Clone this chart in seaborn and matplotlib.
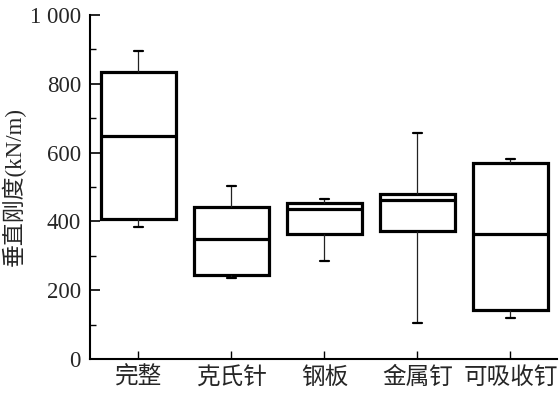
import numpy as np
import pandas as pd
import matplotlib
matplotlib.use("Agg")
import matplotlib.pyplot as plt
import seaborn as sns
from matplotlib.ticker import MultipleLocator, FuncFormatter

categories = ["完整", "克氏针", "钢板", "金属钉", "可吸收钉"]
# five-number summaries: min, Q1, median, Q3, max
mins    = [385, 235, 286, 104, 120]
q1s     = [408, 244, 362, 372, 141]
medians = [648, 348, 436, 462, 362]
q3s     = [833, 441, 454, 481, 571]
maxs    = [895, 503, 465, 658, 581]

rows = []
for c, a, b, m, d, e in zip(categories, mins, q1s, medians, q3s, maxs):
    for v in (a, b, m, d, e):
        rows.append({"组": c, "刚度": v})
df = pd.DataFrame(rows)

sns.set_theme(style="ticks")
plt.rcParams["font.family"] = ["Liberation Serif", "Noto Sans CJK SC"]
plt.rcParams["xtick.direction"] = "in"
plt.rcParams["ytick.direction"] = "in"

fig = plt.figure(figsize=(5.6, 3.93), dpi=100)
ax = fig.add_axes([90/560, 34/393, 467/560, 344/393])

sns.boxplot(data=df, x="组", y="刚度", order=categories, whis=(0, 100),
            width=0.8, color="white", linecolor="black", fill=True,
            boxprops=dict(linewidth=2.3, edgecolor="black", facecolor="white"),
            medianprops=dict(linewidth=2.3, color="black"),
            whiskerprops=dict(linewidth=0.9, color="#222222"),
            capprops=dict(linewidth=1.6, color="black"),
            capwidths=0.1, showfliers=False, ax=ax)

ax.set_xlim(-0.52, 4.5)
ax.set_ylim(0, 1000)
ax.yaxis.set_major_locator(MultipleLocator(200))
ax.yaxis.set_minor_locator(MultipleLocator(100))
ax.yaxis.set_major_formatter(FuncFormatter(lambda v, p: "1 000" if v == 1000 else f"{int(v)}"))
ax.tick_params(axis="y", which="major", direction="in", length=7, width=1.2,
               labelsize=16.5, pad=6.5, color="black")
ax.tick_params(axis="y", which="minor", direction="in", length=4, width=1.0, color="black")
ax.tick_params(axis="x", which="major", direction="in", length=6, width=1.0,
               labelsize=17, pad=5, color="black")
for lab in ax.get_xticklabels():
    lab.set_family(["Noto Sans CJK SC", "Liberation Serif"])
    lab.set_fontweight("medium")
for s in ("top", "right"):
    ax.spines[s].set_visible(False)
for s in ("left", "bottom"):
    ax.spines[s].set_linewidth(1.5)
    ax.spines[s].set_color("black")
ax.set_xlabel("")
ax.set_ylabel("垂直刚度(kN/m)", fontsize=16.5, labelpad=3,
              family=["Liberation Serif", "Noto Sans CJK SC"])
ax.set_facecolor("white")
fig.patch.set_facecolor("white")

fig.savefig("out.png", dpi=100)
